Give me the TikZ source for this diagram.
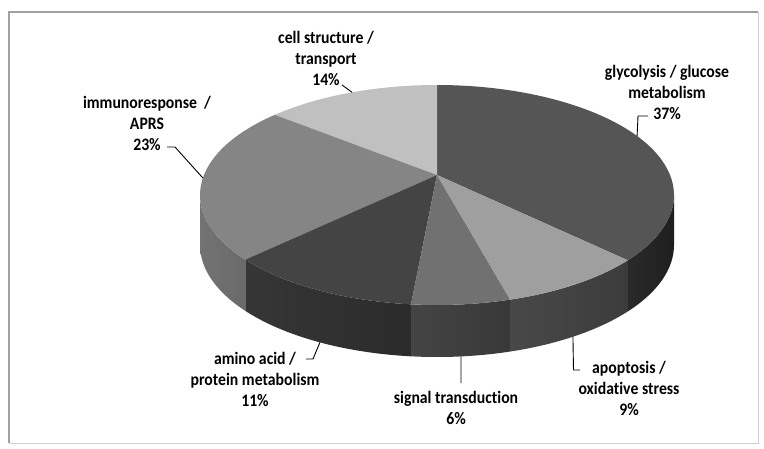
\documentclass[tikz,border=0pt]{standalone}
\usepackage{fontspec}
\setmainfont{Carlito}[Ligatures=CommonOff]
\newfontfamily\lblfont{Carlito}[Ligatures=CommonOff, FakeStretch=0.9]
\definecolor{glytop}{HTML}{555555}
\definecolor{glyside}{HTML}{2A2A2A}
\definecolor{glyside2}{HTML}{1E1E1E}
\definecolor{apotop}{HTML}{9F9F9F}
\definecolor{aposide}{HTML}{484848}
\definecolor{aposide2}{HTML}{3C3C3C}
\definecolor{sigtop}{HTML}{717171}
\definecolor{sigside}{HTML}{444444}
\definecolor{sigside2}{HTML}{383838}
\definecolor{amitop}{HTML}{444444}
\definecolor{amiside}{HTML}{363636}
\definecolor{amiside2}{HTML}{2B2B2B}
\definecolor{immtop}{HTML}{858585}
\definecolor{immside}{HTML}{737373}
\definecolor{immside2}{HTML}{6A6A6A}
\definecolor{celltop}{HTML}{C0C0C0}
\definecolor{frameA}{HTML}{A0A0A0}
\definecolor{frameB}{HTML}{CFCFCF}
\newcommand\pietop[3]{\fill[#3] (437,-175) -- ({437+237*cos(#1)},{-195+110*sin(#1)}) arc[start angle=#1, end angle=#2, x radius=237, y radius=110] -- cycle;}
\newcommand\pieside[4]{\shade[left color=#3, right color=#4] ({437+237*cos(#1)},{-195+110*sin(#1)}) arc[start angle=#1, end angle=#2, x radius=237, y radius=110] -- ({437+237*cos(#2)},{-245+112*sin(#2)}) arc[start angle=#2, end angle=#1, x radius=237, y radius=112] -- cycle;}
\begin{document}
\begin{tikzpicture}[x=1pt,y=1pt,
  lbl/.style={font=\lblfont\fontsize{17.5}{21}\selectfont\bfseries, align=center, inner sep=0pt},
  leader/.style={draw=black, line width=0.9pt}]
\useasboundingbox (0,0) rectangle (764,-448);
\fill[white] (0,0) rectangle (764,-448);
% frame
\draw[frameB, line width=1pt] (9,-443) -- (758,-443) -- (758,-12);
\draw[frameA, line width=1.5pt] (9,-443) -- (9,-12) -- (758,-12);
% sides
\pieside{180}{216}{immside}{immside2}
\pieside{216}{263.7}{amiside}{amiside2}
\pieside{263.7}{288}{sigside}{sigside2}
\pieside{288}{323.6}{aposide}{aposide2}
\pieside{323.6}{360}{glyside}{glyside2}
% top faces
\pietop{-36.4}{90}{glytop}
\pietop{90}{133.2}{celltop}
\pietop{133.2}{216}{immtop}
\pietop{216}{263.7}{amitop}
\pietop{263.7}{288}{sigtop}
\pietop{288}{323.6}{apotop}
% labels
\node[lbl] (lcell) at (326,-58.5) {cell structure /\\transport\\14\%};
\node[lbl] (lgly) at (667,-92.5) {glycolysis / glucose\\metabolism\\37\%};
\node[lbl] (limm) at (147,-123) {immunoresponse\ \ /\\APRS\\23\%};
\node[lbl] (lami) at (255,-379.5) {amino acid /\\protein metabolism\\11\%};
\node[lbl] (lsig) at (456,-407.5) {signal transduction\\6\%};
\node[lbl] (lapo) at (629,-388) {apoptosis /\\oxidative stress\\9\%};
% leader coordinates
\coordinate (c14a) at (342,-85);
\coordinate (c14r) at ({437+237*cos(111)},{-195+110*sin(111)});
\coordinate (c23a) at (167,-147);
\coordinate (c23b) at (175,-147);
\coordinate (c23r) at ({437+237*cos(171.1)},{-195+110*sin(171.1)});
\coordinate (c37a) at (648,-116);
\coordinate (c37b) at (638,-116);
\coordinate (c37r) at ({437+237*cos(32.4)},{-195+110*sin(32.4)});
\coordinate (c11a) at (306,-359);
\coordinate (c11b) at (313,-359);
\coordinate (c11r) at ({437+237*cos(240.4)},{-245+112*sin(240.4)});
\coordinate (c6r) at ({437+237*cos(275.8)},{-245+112*sin(275.8)});
\coordinate (c6a) at (461,-383);
\coordinate (c9r) at ({437+237*cos(305)},{-245+112*sin(305)});
\coordinate (c9b) at (573.5,-370);
\coordinate (c9a) at (580,-370);
\draw[leader] (c14a) -- (c14r);
\draw[leader] (c23a) -- (c23b) -- (c23r);
\draw[leader] (c37a) -- (c37b) -- (c37r);
\draw[leader] (c11a) -- (c11b) -- (c11r);
\draw[leader] (c6r) -- (c6a);
\draw[leader] (c9r) -- (c9b) -- (c9a);
\end{tikzpicture}
\end{document}
